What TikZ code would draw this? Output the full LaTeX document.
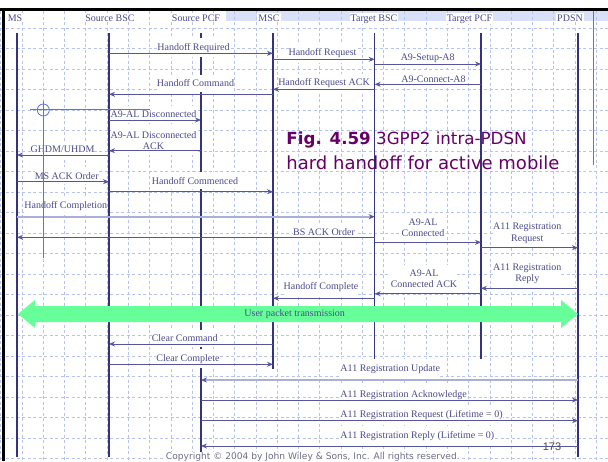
\documentclass[tikz,border=0pt]{standalone}
\usepackage{fontspec}
\setmainfont{Liberation Serif}
\newfontfamily\capfont{DejaVu Sans}
\newfontfamily\pgfont{Liberation Sans}
\usetikzlibrary{arrows.meta}
\definecolor{lifec}{HTML}{33337F}
\definecolor{msgc}{HTML}{55559E}
\definecolor{txtc}{HTML}{4A4A8C}
\definecolor{gridc}{HTML}{B4C3F0}
\definecolor{dblc}{HTML}{A9AFD8}
\definecolor{markc}{HTML}{5B73E0}
\definecolor{capc}{HTML}{660066}
\definecolor{userc}{HTML}{66FF99}
\definecolor{bandc}{HTML}{D8E1F8}
\definecolor{copyc}{HTML}{6E6E88}

\begin{document}
\begin{tikzpicture}[x=1pt,y=-1pt,line width=0.9pt,
  life/.style={draw=lifec,line width=1.2pt},
  msg/.style={draw=msgc,line width=0.9pt,-{Stealth[length=6pt,width=5pt]}},
  dbl/.style={draw=dblc,line width=1.8pt,-{Stealth[length=6pt,width=5pt,color=msgc,line width=0.4pt]}},
  lbl/.style={font=\fontsize{10}{11.5}\selectfont,text=txtc,fill=white,inner xsep=0pt,inner ysep=5pt,align=center},
  head/.style={font=\fontsize{10}{12}\selectfont,text=txtc,fill=white,inner sep=1pt,anchor=base}]
\useasboundingbox (0,0) rectangle (608,461);
\fill[white] (0,0) rectangle (608,461);
\fill[bandc] (226,11) rectangle (608,21);
\foreach \gx in {0,...,28}
  \draw[gridc,line width=0.9pt,dash pattern=on 3pt off 2.5pt] ({0.8+21.27*\gx},11) -- ({0.8+21.27*\gx},461);
\foreach \gy in {0,...,21}
  \draw[gridc,line width=0.9pt,dash pattern=on 3pt off 2.5pt] (0,{28.3+20.5*\gy}) -- (608,{28.3+20.5*\gy});
\fill[black] (0,8) rectangle (608,11);
\fill[black] (1.7,8) rectangle (4.7,461);
\draw[markc,line width=1pt] (593,11) -- (593,165);

\node[head] (hms) at (15,21) {MS};
\node[head] (hsbsc) at (110,21) {Source BSC};
\node[head] (hspcf) at (196,21) {Source PCF};
\node[head] (hmsc) at (269,21) {MSC};
\node[head] (htbsc) at (374,21) {Target BSC};
\node[head] (htpcf) at (469.5,21) {Target PCF};
\node[head] (hpdsn) at (570,21) {PDSN};

\coordinate (ms) at (17,33);
\coordinate (sbsc) at (109,33);
\coordinate (spcf) at (201,33);
\coordinate (msc) at (273,33);
\coordinate (tbsc) at (374.7,33);
\coordinate (tpcf) at (481,33);
\coordinate (pdsn) at (578,33);
\draw[life] (ms) -- (ms |- 0,457);
\draw[life] (sbsc) -- (sbsc |- 0,457);
\draw[life] (spcf) -- (spcf |- 0,457);
\draw[life] (msc) -- (msc |- 0,369);
\draw[life] (tbsc) -- (tbsc |- 0,359);
\draw[life] (tpcf) -- (tpcf |- 0,359);
\draw[life] (pdsn) -- (pdsn |- 0,457);

\node[lbl] (hreq) at (193.5,47.7) {Handoff Required};
\node[lbl] (hrqt) at (322.5,53.3) {Handoff Request};
\node[lbl] (setup) at (427.7,58.7) {A9-Setup-A8};
\node[lbl] (hcmd) at (195.5,83.3) {Handoff Command};
\node[lbl] (hrack) at (324,83.3) {Handoff Request ACK};
\node[lbl] (conn) at (433.5,79) {A9-Connect-A8};
\node[lbl] (disc) at (153.5,114.3) {A9-AL Disconnected};
\node[lbl] (discack) at (153.5,140.5) {A9-AL Disconnected\\ACK};
\node[lbl] (ghdm) at (62.5,149.7) {GHDM/UHDM};
\node[lbl] (msack) at (66.7,175.7) {MS ACK Order};
\node[lbl] (hcom) at (195,180.7) {Handoff Commenced};
\node[lbl] (hcpl) at (65.8,205.7) {Handoff Completion};
\node[lbl] (bsack) at (324,231.7) {BS ACK Order};
\node[lbl] (alconn) at (423,227.5) {A9-AL\\Connected};
\node[lbl] (regreq) at (527.3,233.2) {A11 Registration\\Request};
\node[lbl] (regrep) at (527.3,273.9) {A11 Registration\\Reply};
\node[lbl] (alack) at (424,278.7) {A9-AL\\Connected ACK};
\node[lbl] (hcpt) at (321,287.3) {Handoff Complete};
\node[lbl] (clrcmd) at (184.7,338.3) {Clear Command};
\node[lbl] (clrcpl) at (188,358.7) {Clear Complete};
\node[lbl,anchor=west] (regupd) at (340,369) {A11 Registration Update};
\node[lbl,anchor=west] (regack) at (340,395) {A11 Registration Acknowledge};
\node[lbl,anchor=west] (regreq0) at (340,415) {A11 Registration Request (Lifetime = 0)};
\node[lbl,anchor=west] (regrep0) at (340,436) {A11 Registration Reply (Lifetime = 0)};

\draw[msg] (sbsc |- 0,53.3) -- (msc |- 0,53.3);
\draw[msg] (msc |- 0,59.3) -- (tbsc |- 0,59.3);
\draw[msg] (tbsc |- 0,64) -- (tpcf |- 0,64);
\draw[msg] (tpcf |- 0,84.3) -- (tbsc |- 0,84.3);
\draw[msg] (tbsc |- 0,89.3) -- (msc |- 0,89.3);
\draw[msg] (msc |- 0,94.3) -- (sbsc |- 0,94.3);
\draw[msg] (sbsc |- 0,120) -- (spcf |- 0,120);
\draw[msg] (spcf |- 0,150.7) -- (sbsc |- 0,150.7);
\draw[msg] (sbsc |- 0,155) -- (ms |- 0,155);
\draw[msg] (ms |- 0,181.7) -- (sbsc |- 0,181.7);
\draw[msg] (sbsc |- 0,191.7) -- (msc |- 0,191.7);
\draw[dbl] (ms |- 0,216.7) -- (tbsc |- 0,216.7);
\draw[msg] (tbsc |- 0,237.3) -- (ms |- 0,237.3);
\draw[msg] (tbsc |- 0,242.3) -- (tpcf |- 0,242.3);
\draw[msg] (tpcf |- 0,247.7) -- (pdsn |- 0,247.7);
\draw[msg] (pdsn |- 0,288.3) -- (tpcf |- 0,288.3);
\draw[msg] (tpcf |- 0,293.7) -- (tbsc |- 0,293.7);
\draw[msg] (tbsc |- 0,298.3) -- (msc |- 0,298.3);
\draw[msg] (msc |- 0,344) -- (sbsc |- 0,344);
\draw[msg] (sbsc |- 0,364.3) -- (msc |- 0,364.3);
\draw[dbl] (pdsn |- 0,380) -- (spcf |- 0,380);
\draw[msg] (spcf |- 0,400) -- (pdsn |- 0,400);
\draw[msg] (spcf |- 0,420.7) -- (pdsn |- 0,420.7);
\draw[msg] (pdsn |- 0,446) -- (spcf |- 0,446);

\fill[userc] (18,314) -- (35,300) -- (35,306) -- (561,306) -- (561,300) -- (578,314)
  -- (561,328) -- (561,322) -- (35,322) -- (35,328) -- cycle;
\node[font=\fontsize{10}{12}\selectfont,text=txtc,inner sep=0pt] (upt) at (294.7,314) {User packet transmission};

\node[anchor=base west,inner sep=0pt,text=capc,font=\capfont\fontsize{16.7}{22}\selectfont] (fig1) at (286,144) {\textbf{Fig. 4.59} 3GPP2 intra-PDSN};
\node[anchor=base west,inner sep=0pt,text=capc,font=\capfont\fontsize{18}{22}\selectfont] (fig2) at (286,169.3) {hard handoff for active mobile};

\draw[markc,line width=0.8pt] (30,109.3) -- (150,109.3);
\draw[markc,line width=0.8pt] (43.3,101) -- (43.3,258);
\draw[markc,line width=0.8pt] (43.3,110) circle (6);

\node[anchor=base west,inner sep=0.5pt,fill=white,text=copyc,font=\capfont\fontsize{9.1}{10}\selectfont] (copy) at (165,459.5) {Copyright © 2004 by John Wiley \& Sons, Inc. All rights reserved.};
\node[anchor=base,inner sep=0pt,text=black!70,font=\pgfont\fontsize{11}{12}\selectfont] (pgno) at (552,450.7) {173};
\end{tikzpicture}
\end{document}
